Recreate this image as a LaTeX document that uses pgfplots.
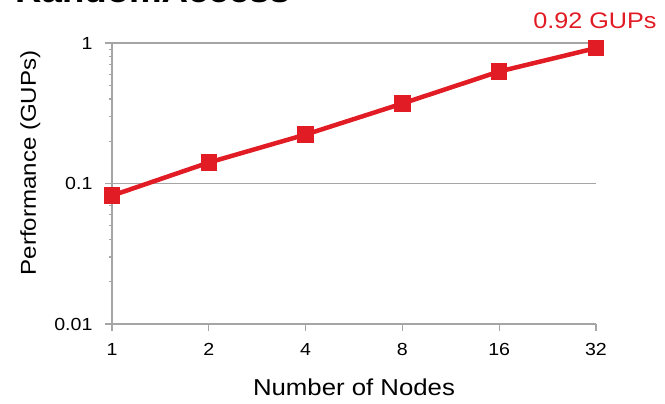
\documentclass[border=0pt]{standalone}
\usepackage{pgfplots}
\pgfplotsset{compat=1.18}
\usepackage{fontspec}
\setmainfont{Liberation Sans}[FakeStretch=1.12]
\definecolor{myred}{RGB}{226,28,36}
\definecolor{axgray}{RGB}{165,165,165}
\begin{document}
\begin{tikzpicture}[x=1pt,y=1pt]
\begin{axis}[
  at={(112pt,80pt)}, anchor=south west,
  scale only axis, width=484pt, height=281pt,
  xmode=log, log basis x=2, ymode=log,
  xmin=1, xmax=32, ymin=0.01, ymax=1,
  xtick={1,2,4,8,16,32}, xticklabels={1,2,4,8,16,32},
  ytick={0.01,0.1,1}, yticklabels={0.01,0.1,1},
  minor ytick={},
  axis x line=bottom, axis y line=left,
  axis line style={axgray, line width=1.2pt, -},
  ymajorgrids, grid style={axgray, line width=1.2pt},
  tick style={axgray, line width=1.2pt},
  major tick length=7pt,
  xtick align=outside, ytick align=outside,
  tick label style={font=\fontsize{17.5}{19}\selectfont, text=black},
  xticklabel style={yshift=-9pt},
  yticklabel style={xshift=-9pt},
  xlabel={Number of Nodes}, ylabel={Performance (GUPs)},
  xlabel style={font=\fontsize{23}{25}\selectfont, at={(axis description cs:0.5,-0.256)}, anchor=base},
  ylabel style={font=\fontsize{21.5}{23}\selectfont, at={(axis description cs:-0.169,0.573)}, anchor=center},
  clip=false,
]
\addplot[myred, line width=4.5pt, mark=square*, mark size=7.7pt, mark options={fill=myred, draw=myred, line width=0pt}]
  coordinates {(1,0.082) (2,0.141) (4,0.223) (8,0.371) (16,0.627) (32,0.92)};
\node[text=myred, font=\fontsize{22.5}{24}\selectfont, anchor=base] at (axis cs:32,0.92) [yshift=20pt, xshift=-1pt] {0.92 GUPs};
\end{axis}
\node[anchor=base west, font=\fontsize{32.7}{34}\selectfont\bfseries, inner sep=0pt] at (15pt,401pt) {RandomAccess};
\pgfresetboundingbox
\useasboundingbox (0,0) rectangle (665pt,404pt);
\end{tikzpicture}
\end{document}
